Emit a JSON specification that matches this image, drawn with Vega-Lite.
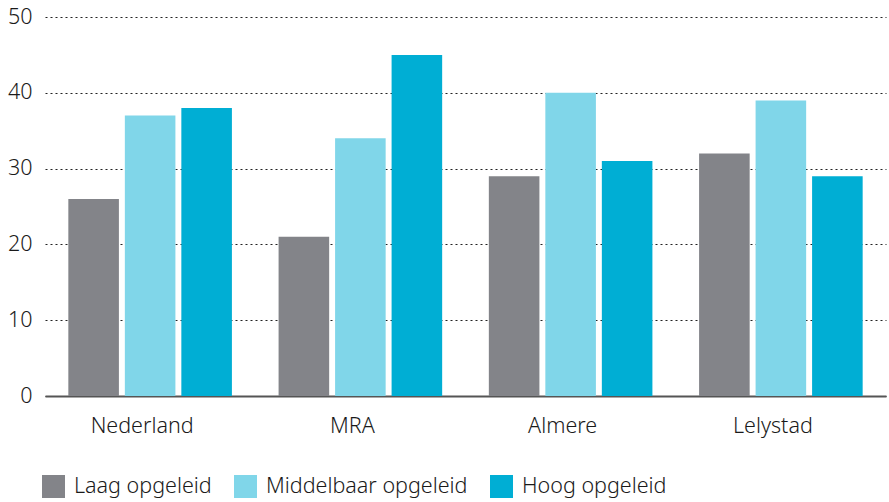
{
  "$schema": "https://vega.github.io/schema/vega-lite/v6.json",
  "width": 841,
  "height": 379,
  "autosize": {"type": "none"},
  "padding": {"left": 45, "top": 17, "right": 3, "bottom": 106},
  "background": "white",
  "config": {
    "view": {"stroke": null},
    "font": "Noto Sans",
    "axis": {"labelFont": "Noto Sans", "labelFontSize": 21.5, "labelColor": "#1a1a1a", "labelFontWeight": 300},
    "legend": {"labelFont": "Noto Sans", "labelFontSize": 21.5, "labelColor": "#1a1a1a", "labelFontWeight": 300, "labelLimit": 0}
  },
  "data": {
    "values": [
      {"regio": "Nederland", "niveau": "Laag opgeleid", "waarde": 26},
      {"regio": "Nederland", "niveau": "Middelbaar opgeleid", "waarde": 37},
      {"regio": "Nederland", "niveau": "Hoog opgeleid", "waarde": 38},
      {"regio": "MRA", "niveau": "Laag opgeleid", "waarde": 21},
      {"regio": "MRA", "niveau": "Middelbaar opgeleid", "waarde": 34},
      {"regio": "MRA", "niveau": "Hoog opgeleid", "waarde": 45},
      {"regio": "Almere", "niveau": "Laag opgeleid", "waarde": 29},
      {"regio": "Almere", "niveau": "Middelbaar opgeleid", "waarde": 40},
      {"regio": "Almere", "niveau": "Hoog opgeleid", "waarde": 31},
      {"regio": "Lelystad", "niveau": "Laag opgeleid", "waarde": 32},
      {"regio": "Lelystad", "niveau": "Middelbaar opgeleid", "waarde": 39},
      {"regio": "Lelystad", "niveau": "Hoog opgeleid", "waarde": 29}
    ]
  },
  "mark": {"type": "bar"},
  "encoding": {
    "x": {
      "field": "regio",
      "type": "nominal",
      "sort": ["Nederland", "MRA", "Almere", "Lelystad"],
      "scale": {"paddingInner": 0.222, "paddingOuter": 0.111},
      "axis": {
        "title": null,
        "labelAngle": 0,
        "ticks": false,
        "labelPadding": 19,
        "labelOffset": -8,
        "domainColor": "#555555",
        "domainWidth": 2
      }
    },
    "xOffset": {
      "field": "niveau",
      "type": "nominal",
      "sort": ["Laag opgeleid", "Middelbaar opgeleid", "Hoog opgeleid"],
      "scale": {"paddingInner": 0.105, "paddingOuter": 0}
    },
    "y": {
      "field": "waarde",
      "type": "quantitative",
      "scale": {"domain": [0, 50]},
      "axis": {
        "title": null,
        "values": [0, 10, 20, 30, 40, 50],
        "ticks": false,
        "domain": false,
        "labelPadding": 13,
        "gridColor": "#222222",
        "gridDash": [2, 3],
        "gridWidth": 1.2,
        "gridOpacity": 1
      }
    },
    "color": {
      "field": "niveau",
      "type": "nominal",
      "sort": ["Laag opgeleid", "Middelbaar opgeleid", "Hoog opgeleid"],
      "scale": {
        "domain": ["Laag opgeleid", "Middelbaar opgeleid", "Hoog opgeleid"],
        "range": ["#838489", "#80D6E9", "#00AED4"]
      },
      "legend": {
        "title": null,
        "orient": "none",
        "legendX": -3,
        "legendY": 458,
        "direction": "horizontal",
        "symbolType": "square",
        "symbolSize": 529,
        "symbolStrokeWidth": 0,
        "symbolOpacity": 1,
        "labelOffset": 9,
        "columnPadding": 22,
        "padding": 0
      }
    }
  }
}
